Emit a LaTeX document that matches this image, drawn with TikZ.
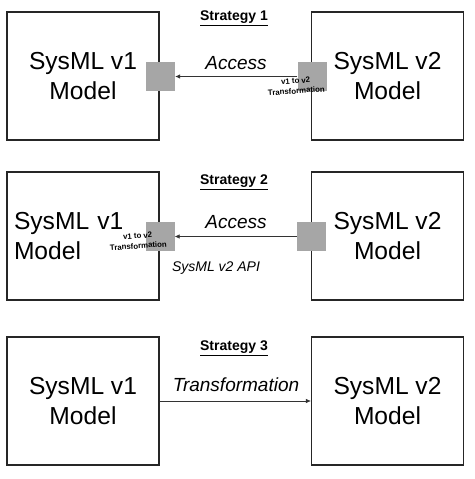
\documentclass[tikz,border=0pt]{standalone}
\usepackage{fontspec}
\setmainfont{Liberation Sans}
\usetikzlibrary{arrows.meta}
\begin{document}
\begin{tikzpicture}[x=1pt,y=-1pt,
  model/.style={draw=black!85, line width=1.2pt, minimum width=152pt, minimum height=128pt, inner sep=0pt, font=\fontsize{24.6}{30}\selectfont, align=center},
  port/.style={fill=black!35, minimum size=29pt, inner sep=0pt},
  title/.style={font=\bfseries\fontsize{14}{16}\selectfont, inner sep=0pt},
  lbl/.style={font=\itshape\fontsize{19}{22}\selectfont, inner sep=0pt},
  api/.style={font=\itshape\fontsize{14}{16}\selectfont, inner sep=0pt},
  tiny/.style={font=\bfseries\fontsize{7.8}{10}\selectfont, align=center, rotate=4, inner sep=0pt},
  conn/.style={draw=black!80, line width=0.6pt, -{Latex[length=5pt,width=4.5pt]}}]
\useasboundingbox (0,0) rectangle (474,479);
\fill[white] (0,0) rectangle (474,479);

% Strategy 1
\node[title] (t1) at (234,18) {\underline{Strategy 1}};
\node[model] (b1l) at (83,76) {SysML v1\\Model};
\node[model] (b1r) at (387.5,76) {SysML v2\\Model};
\node[port] (s1l) at (160.5,76.5) {};
\node[port] (s1r) at (312,76.5) {};
\draw[conn] (s1r.west) -- (s1l.east);
\node[lbl] (a1) at (236,63) {Access};
\node[tiny] (x1) at (296,86) {v1 to v2\\Transformation};

% Strategy 2
\node[title] (t2) at (234,182) {\underline{Strategy 2}};
\node[model, text width=138pt, align=left] (b2l) at (83,236) {SysML v1\\Model};
\node[model] (b2r) at (387.5,236) {SysML v2\\Model};
\node[port] (s2l) at (160,236.5) {};
\node[port] (s2r) at (311.5,236.5) {};
\draw[conn] (s2r.west) -- (s2l.east);
\node[lbl] (a2) at (236,222) {Access};
\node[api] (p2) at (216,268) {SysML v2 API};
\node[tiny] (x2) at (138,241) {v1 to v2\\Transformation};

% Strategy 3
\node[title] (t3) at (234,348) {\underline{Strategy 3}};
\node[model] (b3l) at (83,401) {SysML v1\\Model};
\node[model] (b3r) at (387.5,401) {SysML v2\\Model};
\draw[conn] (b3l.east) -- (b3r.west);
\node[lbl] (a3) at (236,385) {Transformation};
\end{tikzpicture}
\end{document}
